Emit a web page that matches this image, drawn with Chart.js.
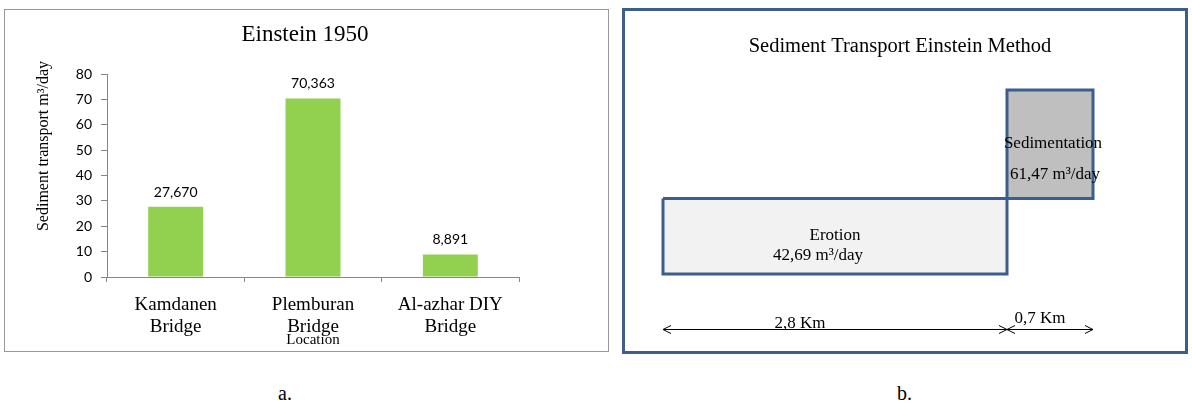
<!DOCTYPE html>
<html>
<head>
<meta charset="utf-8">
<script src="https://cdn.jsdelivr.net/npm/chart.js@4.4.1/dist/chart.umd.min.js"></script>
<style>
  html, body { margin: 0; padding: 0; background: #fff; }
  body { width: 1192px; height: 406px; position: relative; overflow: hidden; font-family: "Liberation Serif", serif; }
  #panelA { position: absolute; left: 4px; top: 9px; width: 603px; height: 341px; border: 1px solid #999; }
  #panelB { position: absolute; left: 622px; top: 8px; width: 560px; height: 340px; border: 3px solid #3b5e8c; }
  canvas { display: block; }
  .cap { position: absolute; top: 383px; font-size: 20px; line-height: 20px; color: #000; }
</style>
</head>
<body>
<div id="panelA"><canvas id="chartA" width="603" height="341"></canvas></div>
<div id="panelB"><canvas id="chartB" width="560" height="340"></canvas></div>
<div class="cap" style="left:278px">a.</div>
<div class="cap" style="left:897px">b.</div>

<script>
// ---- (a) Einstein 1950: sediment transport per location ----
const locations = [["Kamdanen", "Bridge"], ["Plemburan", "Bridge"], ["Al-azhar DIY", "Bridge"]];
const sedimentTransport = [27.670, 70.363, 8.891];   // m³/day
const yTicks = [0, 10, 20, 30, 40, 50, 60, 70, 80];

// ---- (b) Einstein method along the reach ----
const reachParts = ["Erotion", "Sedimentation"];
const reachLengthKm = [2.8, 0.7];
const reachTransport = [42.69, 61.47];               // m³/day
const reachSign = [-1, 1];                           // erosion below, sedimentation above

const SERIF = "Liberation Serif";
const SANS = "Lato";
const fmt = (v, d) => v.toFixed(d).replace(".", ",");

const panelATexts = {
  id: "panelATexts",
  afterDatasetsDraw(chart) {
    const ctx = chart.ctx;
    ctx.save();
    ctx.fillStyle = "#000";
    // chart title
    ctx.font = `23px "${SERIF}"`;
    ctx.textAlign = "center";
    ctx.textBaseline = "alphabetic";
    ctx.fillText("Einstein 1950", 300, 31);
    // value labels above the bars
    ctx.font = `14px "${SANS}"`;
    chart.getDatasetMeta(0).data.forEach((bar, i) => {
      ctx.fillText(fmt(sedimentTransport[i], 3), bar.x, bar.y - 10);
    });
    // y axis title
    ctx.translate(39, 136);
    ctx.rotate(-Math.PI / 2);
    ctx.font = `16px "${SERIF}"`;
    ctx.textBaseline = "middle";
    ctx.fillText("Sediment transport m³/day", 0, 0);
    ctx.restore();
  }
};

new Chart(document.getElementById("chartA"), {
  type: "bar",
  data: {
    labels: locations,
    datasets: [{
      data: sedimentTransport,
      backgroundColor: "#92d050",
      borderWidth: 0,
      barPercentage: 0.4,
      categoryPercentage: 1
    }]
  },
  options: {
    responsive: false,
    animation: false,
    layout: { padding: { top: 64, right: 89, bottom: 2, left: 0 } },
    plugins: { legend: { display: false }, tooltip: { enabled: false } },
    scales: {
      x: {
        grid: { drawOnChartArea: false, tickLength: 5, color: "#868686" },
        border: { color: "#868686" },
        ticks: { color: "#000", padding: 12, maxRotation: 0, font: { family: SERIF, size: 19, lineHeight: 1.15 } },
        title: { display: true, text: "Location", color: "#000", padding: 0, font: { family: SERIF, size: 15 } },
        afterFit(scale) { scale.height = 72; }
      },
      y: {
        min: yTicks[0],
        max: yTicks[yTicks.length - 1],
        afterBuildTicks(scale) { scale.ticks = yTicks.map(v => ({ value: v })); },
        grid: { drawOnChartArea: false, tickLength: 6, color: "#868686" },
        border: { color: "#868686" },
        ticks: { color: "#000", padding: 9, font: { family: SANS, size: 14 } },
        afterFit(scale) { scale.width = 102; }
      }
    }
  },
  plugins: [panelATexts]
});

// reach segments as closed rectangles (km along x, transport along y)
const starts = reachLengthKm.map((_, i) => reachLengthKm.slice(0, i).reduce((a, b) => a + b, 0));
const totalKm = reachLengthKm.reduce((a, b) => a + b, 0);
const signed = reachTransport.map((v, i) => v * reachSign[i]);
const fills = ["#f2f2f2", "#bfbfbf"];

const segmentSets = reachParts.map((name, i) => {
  const x0 = starts[i], x1 = starts[i] + reachLengthKm[i], y = signed[i];
  return {
    label: name,
    data: [{ x: x0, y: 0 }, { x: x1, y: 0 }, { x: x1, y: y }, { x: x0, y: y }, { x: x0, y: 0 }],
    showLine: true,
    fill: "shape",
    backgroundColor: fills[i],
    borderColor: "#3b5e8c",
    borderWidth: 3,
    borderJoinStyle: "miter",
    tension: 0,
    pointRadius: 0,
    clip: false
  };
});

function arrowHead(ctx, x, y, dir) {
  ctx.beginPath();
  ctx.moveTo(x - dir * 8, y - 4);
  ctx.lineTo(x, y);
  ctx.lineTo(x - dir * 8, y + 4);
  ctx.stroke();
}

const panelBTexts = {
  id: "panelBTexts",
  afterDatasetsDraw(chart) {
    const ctx = chart.ctx;
    const xs = chart.scales.x, ys = chart.scales.y;
    ctx.save();
    ctx.fillStyle = "#000";
    ctx.textAlign = "center";
    ctx.textBaseline = "alphabetic";
    ctx.font = `20.5px "${SERIF}"`;
    ctx.fillText("Sediment Transport Einstein Method", 275, 41);

    ctx.font = `17px "${SERIF}"`;
    // erosion labels
    const eL = xs.getPixelForValue(starts[0]);
    const eR = xs.getPixelForValue(starts[0] + reachLengthKm[0]);
    const eB = ys.getPixelForValue(signed[0]);
    ctx.fillText(reachParts[0], (eL + eR) / 2, eB - 34);
    ctx.fillText(fmt(reachTransport[0], 2) + " m³/day", (eL + eR) / 2 - 17, eB - 14);
    // sedimentation labels
    const sL = xs.getPixelForValue(starts[1]);
    const sR = xs.getPixelForValue(starts[1] + reachLengthKm[1]);
    const sT = ys.getPixelForValue(signed[1]);
    ctx.fillText(reachParts[1], (sL + sR) / 2 + 3, sT + 58);
    ctx.fillText(fmt(reachTransport[1], 2) + " m³/day", (sL + sR) / 2 + 5, sT + 89);

    // length arrows under the reach
    const ay = chart.chartArea.bottom + 55;
    ctx.strokeStyle = "#000";
    ctx.lineWidth = 1;
    reachLengthKm.forEach((len, i) => {
      const a = xs.getPixelForValue(starts[i]);
      const b = xs.getPixelForValue(starts[i] + len);
      ctx.beginPath();
      ctx.moveTo(a, ay + 0.5);
      ctx.lineTo(b, ay + 0.5);
      ctx.stroke();
      arrowHead(ctx, a, ay + 0.5, -1);
      arrowHead(ctx, b, ay + 0.5, 1);
    });
    const a0 = xs.getPixelForValue(starts[0]);
    const a1 = xs.getPixelForValue(starts[1]);
    ctx.fillText(fmt(reachLengthKm[0], 1) + " Km", a0 + 137, ay - 1);
    ctx.fillText(fmt(reachLengthKm[1], 1) + " Km", a1 + 33, ay - 6);
    ctx.restore();
  }
};

new Chart(document.getElementById("chartB"), {
  type: "scatter",
  data: { datasets: segmentSets },
  options: {
    responsive: false,
    animation: false,
    layout: { padding: { top: 79, right: 92, bottom: 77, left: 38 } },
    plugins: { legend: { display: false }, tooltip: { enabled: false } },
    scales: {
      x: { type: "linear", display: false, min: 0, max: totalKm },
      y: { type: "linear", display: false, min: Math.min(0, ...signed), max: Math.max(0, ...signed) }
    }
  },
  plugins: [panelBTexts]
});
</script>
</body>
</html>
